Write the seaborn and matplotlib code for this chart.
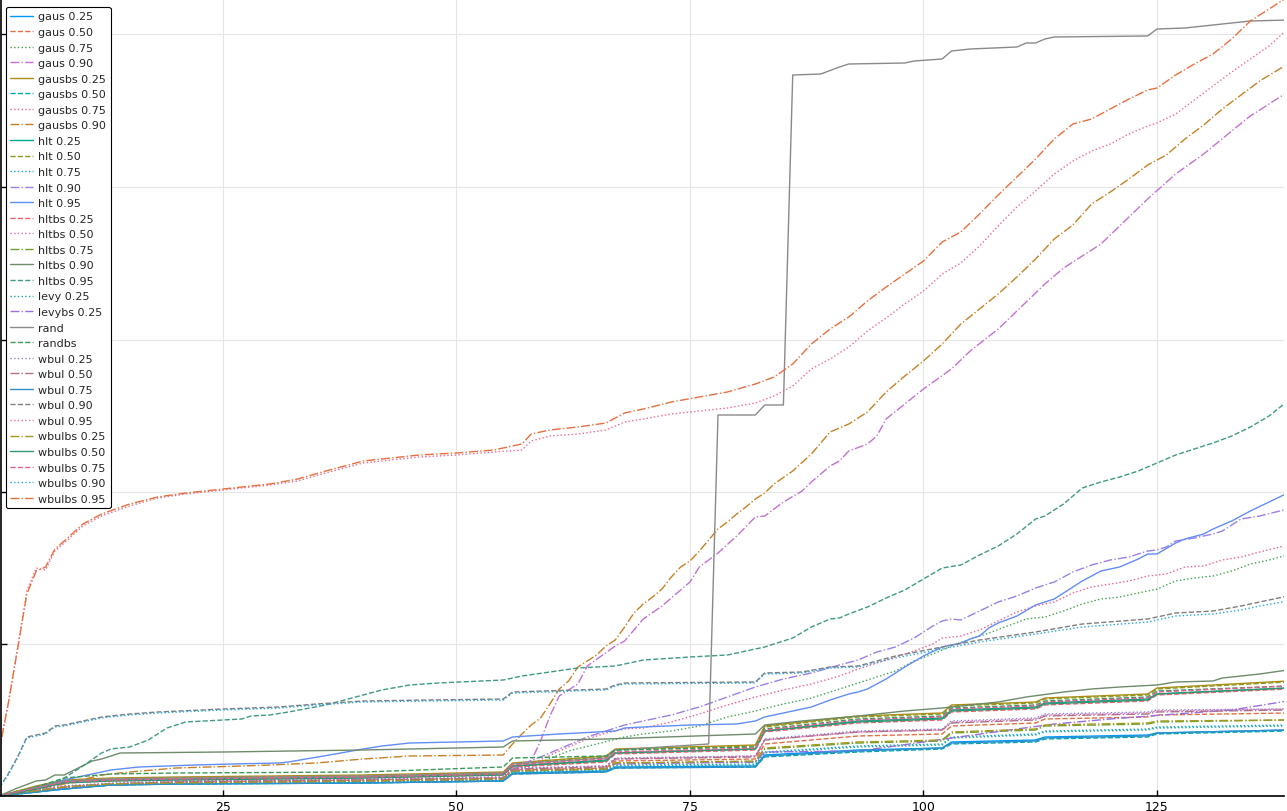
import matplotlib
matplotlib.use("Agg")
import matplotlib.pyplot as plt
import seaborn as sns

sns.set_style("white")
plt.rcParams["font.family"] = ["DejaVu Sans"]

# shared x grid for the step-like bundle at the bottom
xc = [1, 3, 5, 8, 13, 20, 40, 55, 56, 66, 67, 82, 83, 93, 102, 103, 112, 113, 124, 125, 139]

gausbs_025 = [0, 5, 10, 16, 18, 19, 21, 24, 33, 40, 47, 51, 70, 80, 83, 91, 94, 98, 102, 108, 115]
hlt_050 = [0, 5, 9, 15, 17, 18, 20, 23, 32, 39, 46, 50, 69, 79, 82, 90, 93, 97, 101, 107, 114]
randbs = [0, 4, 9, 18, 22, 23, 24, 29, 38, 40, 46, 49, 67, 77, 80, 88, 91, 95, 99, 105, 110]
wbulbs_075 = [0, 4, 8, 14, 16, 17, 19, 22, 31, 37, 44, 48, 66, 76, 79, 87, 90, 94, 98, 104, 110]
hlt_025 = [0, 3, 8, 14, 16, 17, 19, 22, 30, 36, 43, 47, 65, 75, 78, 86, 89, 93, 97, 102, 108]
wbulbs_050 = [0, 3, 7, 13, 15, 16, 18, 21, 30, 35, 43, 47, 65, 74, 77, 85, 88, 92, 96, 102, 108]
hltbs_025 = [0, 3, 7, 13, 15, 16, 18, 21, 29, 34, 42, 46, 64, 73, 76, 84, 87, 91, 95, 101, 107]
wbul_025 = [0, 4, 6, 10, 13, 15, 17, 19, 28, 30, 38, 40, 57, 65, 67, 75, 78, 82, 84, 86, 87]
hltbs_050 = [0, 4, 6, 10, 12, 14, 16, 19, 27, 30, 37, 40, 56, 64, 66, 74, 77, 81, 83, 85, 87]
wbul_050 = [0, 3, 6, 9, 12, 14, 16, 18, 27, 29, 37, 39, 56, 64, 66, 73, 76, 80, 82, 84, 86]
gaus_050 = [0, 3, 5, 9, 12, 14, 16, 18, 26, 28, 35, 37, 52, 60, 62, 70, 73, 77, 79, 81, 83]
wbulbs_025 = [0, 3, 5, 9, 12, 13, 15, 17, 25, 27, 33, 35, 48, 54, 56, 64, 67, 71, 73, 75, 76]
hltbs_075 = [0, 3, 5, 8, 11, 13, 15, 17, 25, 27, 33, 34, 47, 53, 55, 63, 66, 70, 72, 74, 76]
hlt_075 = [0, 2, 5, 8, 11, 13, 14, 16, 24, 26, 31, 32, 44, 50, 52, 59, 62, 65, 67, 69, 71]
levy_025 = [0, 2, 4, 8, 11, 12, 14, 16, 23, 25, 30, 31, 43, 49, 51, 58, 61, 64, 66, 68, 70]
gausbs_050 = [0, 2, 4, 7, 11, 12, 13, 15, 22, 24, 28, 29, 39, 44, 47, 52, 54, 57, 59, 62, 65]
wbul_075 = [0, 2, 4, 7, 11, 12, 13, 15, 22, 24, 28, 29, 40, 45, 48, 53, 55, 58, 60, 63, 66]
gaus_025 = [0, 2, 4, 7, 11, 12, 13, 15, 23, 25, 29, 30, 41, 46, 48, 54, 56, 59, 61, 63, 66]

levybs_025_x = [1, 3, 5, 8, 13, 20, 40, 55, 56, 66, 67, 82, 83, 93, 97, 103, 110, 114, 120, 127, 133, 139]
levybs_025 = [0, 3, 5, 8, 11, 13, 15, 17, 25, 27, 32, 34, 44, 45, 50, 58, 67, 72, 77, 82, 86, 95]

wbulbs_095_x = [1, 2, 3, 4, 5, 6, 7, 8, 10, 12, 15, 18, 21, 25, 30, 33, 36, 40, 43, 46,
                50, 54, 57, 58, 60, 63, 66, 68, 70, 73, 76, 79, 82, 84, 86, 88, 90, 92, 94, 96,
                98, 100, 102, 104, 106, 108, 110, 112, 114, 116, 118, 120, 122, 124, 125, 127, 129, 131, 133, 135,
                137, 139]
wbulbs_095 = [44, 92, 147, 202, 225, 229, 247, 255, 272, 282, 292, 299, 303, 307, 312, 317, 325, 335, 338, 341,
              343, 346, 352, 362, 366, 369, 373, 383, 387, 394, 399, 404, 412, 419, 432, 452, 467, 479, 495, 509,
              522, 535, 554, 564, 582, 601, 619, 637, 657, 672, 677, 687, 697, 706, 708, 721, 732, 742, 757, 775,
              787, 799]
wbul_095 = [44, 92, 147, 205, 228, 226, 245, 253, 270, 280, 290, 298, 302, 306, 311, 315, 323, 333, 336, 339,
            341, 344, 346, 355, 360, 362, 366, 374, 377, 382, 385, 388, 393, 400, 410, 427, 437, 449, 465, 478,
            492, 505, 522, 533, 550, 570, 589, 605, 622, 635, 645, 652, 662, 670, 673, 682, 696, 710, 724, 737,
            750, 767]

gausbs_090_x = [1, 5, 8, 12, 15, 20, 27, 30, 35, 40, 45, 55, 56, 57, 58, 59, 60, 61, 62, 63,
                64, 65, 66, 67, 68, 69, 70, 71, 72, 73, 74, 75, 76, 77, 78, 79, 80, 81, 82, 83,
                84, 86, 88, 90, 92, 94, 96, 98, 100, 102, 104, 106, 108, 110, 112, 114, 116, 118, 120, 122,
                124, 126, 128, 130, 132, 134, 136, 139]
gausbs_090 = [0, 7, 12, 21, 24, 28, 30, 31, 33, 37, 40, 41, 52, 62, 71, 78, 92, 107, 115, 129,
              135, 141, 150, 156, 169, 183, 192, 199, 207, 219, 229, 235, 245, 256, 267, 274, 282, 289, 297, 303,
              312, 325, 342, 364, 372, 384, 404, 420, 435, 452, 472, 487, 502, 519, 537, 557, 571, 592, 604, 617,
              631, 641, 657, 671, 687, 701, 715, 732]

gaus_090_x = [1, 3, 5, 8, 13, 20, 40, 55, 56, 57, 58, 59, 60, 61, 63, 64, 67, 68, 70, 72,
              75, 76, 78, 80, 82, 83, 85, 87, 88, 90, 91, 92, 94, 95, 96, 98, 100, 103, 105, 108,
              110, 113, 115, 119, 121, 124, 127, 130, 133, 135, 137, 139]
gaus_090 = [0, 3, 5, 9, 12, 14, 16, 18, 26, 28, 35, 55, 80, 100, 112, 130, 150, 155, 177, 190,
            214, 229, 243, 260, 279, 280, 294, 305, 314, 330, 335, 345, 352, 360, 377, 392, 407, 427, 445, 467,
            485, 512, 528, 552, 570, 597, 622, 642, 665, 680, 692, 704]

hltbs_095_x = [1, 3, 5, 6, 8, 10, 12, 13, 15, 17, 19, 21, 25, 27, 28, 30, 32, 36, 40, 42,
               45, 48, 55, 57, 60, 63, 67, 70, 75, 79, 81, 83, 86, 88, 90, 91, 92, 94, 96, 98,
               100, 102, 104, 106, 108, 110, 112, 113, 115, 117, 119, 121, 123, 125, 127, 129, 131, 133, 135, 137,
               139]
hltbs_095 = [0, 4, 7, 9, 18, 30, 43, 47, 49, 56, 68, 74, 76, 77, 80, 81, 84, 91, 101, 106,
             111, 113, 116, 120, 124, 128, 130, 136, 139, 141, 145, 149, 158, 169, 177, 178, 182, 189, 198, 206,
             217, 228, 231, 241, 250, 262, 277, 280, 292, 308, 314, 319, 325, 333, 341, 347, 353, 360, 369, 380,
             395]

hlt_095_x = [1, 4.5, 8, 10, 13, 16, 22, 26, 31, 32, 37, 40, 42, 45, 55, 56, 61, 67, 68, 70,
             75, 80, 82, 83, 86, 88, 90, 92, 93, 94, 96, 98, 100, 102, 103, 104, 105, 106, 107, 108,
             110, 112, 113, 114, 115, 117, 119, 121, 123, 124, 125, 127, 128, 130, 131, 133, 135, 137, 139]
hlt_095 = [0, 7, 16, 20, 26, 29, 31, 32, 33, 34, 42, 47, 50, 53, 55, 59, 62, 65, 68, 69,
           71, 72, 75, 79, 85, 89, 96, 102, 104, 107, 117, 129, 140, 149, 151, 153, 157, 160, 168, 173,
           180, 191, 194, 197, 203, 215, 225, 229, 237, 242, 242, 253, 257, 262, 267, 275, 285, 294, 303]

hlt_090_x = [1, 3, 5, 8, 13, 20, 40, 55, 56, 57, 59, 64, 66, 68, 70, 73, 76, 79, 82, 85,
             88, 91, 93, 95, 97, 99, 101, 102, 103, 104, 106, 108, 110, 112, 114, 116, 118, 120, 122, 124,
             125, 126, 127, 129, 131, 132, 134, 136, 139]
hlt_090 = [0, 3, 5, 8, 12, 13, 15, 17, 26, 32, 39, 59, 65, 71, 75, 81, 89, 99, 109, 117,
           123, 131, 136, 144, 149, 158, 170, 175, 177, 176, 185, 194, 200, 208, 214, 224, 231, 236, 239, 245,
           246, 249, 255, 258, 262, 265, 277, 280, 287]

gausbs_075_x = [1, 3, 5, 8, 13, 20, 40, 55, 56, 58, 61, 64, 66, 68, 70, 73, 76, 79, 82, 85,
                88, 91, 93, 95, 97, 99, 101, 102, 104, 106, 108, 110, 112, 114, 116, 118, 120, 122, 124, 126,
                128, 130, 132, 134, 136, 139]
gausbs_075 = [0, 3, 5, 9, 12, 14, 16, 18, 26, 32, 45, 57, 63, 67, 68, 74, 82, 91, 99, 106,
              112, 120, 127, 133, 139, 145, 152, 158, 160, 166, 175, 184, 190, 194, 203, 209, 212, 215, 220, 222,
              229, 230, 236, 239, 244, 251]

gaus_075_x = [1, 3, 5, 8, 13, 20, 40, 55, 56, 58, 62, 65, 68, 70, 73, 76, 79, 82, 85, 88,
              91, 93, 95, 97, 99, 101, 103, 105, 107, 109, 111, 113, 115, 117, 119, 121, 123, 125, 127, 129,
              131, 133, 135, 137, 139]
gaus_075 = [0, 3, 5, 9, 12, 14, 16, 18, 27, 30, 45, 52, 59, 62, 65, 70, 79, 85, 92, 98,
            107, 113, 119, 125, 135, 142, 150, 157, 163, 170, 177, 179, 185, 192, 197, 199, 203, 207, 215, 218,
            220, 225, 232, 236, 241]

wbul_090_x = [1, 2, 3, 4, 5, 6, 7, 8, 10, 12, 15, 18, 25, 31, 35, 40, 47, 55, 56, 66,
              67, 68, 82, 83, 87, 90, 93, 97, 102, 106, 112, 117, 124, 127, 131, 134, 136, 139]
wbul_090 = [8, 22, 39, 59, 61, 63, 70, 71, 75, 79, 82, 84, 87, 89, 92, 95, 96, 97, 104, 107,
            111, 113, 114, 123, 124, 129, 130, 140, 149, 156, 164, 172, 177, 183, 185, 190, 194, 200]
wbulbs_090 = [8, 21, 38, 58, 60, 62, 69, 70, 74, 78, 81, 83, 86, 88, 91, 94, 95, 96, 103, 106,
              110, 112, 113, 122, 123, 128, 129, 138, 147, 154, 162, 169, 174, 180, 182, 186, 190, 195]

hltbs_090_x = [1, 3, 5, 6, 7, 8, 11, 12, 13, 14, 25, 40, 55, 56, 66, 82, 83, 87, 93, 98,
               102, 108, 111, 115, 118, 121, 125, 127, 131, 132, 136, 139]
hltbs_090 = [0, 8, 15, 16, 21, 21, 35, 37, 40, 43, 44, 46, 49, 55, 57, 62, 71, 75, 80, 85,
             88, 94, 99, 104, 107, 109, 111, 114, 115, 118, 122, 126]

rand_x = [1, 3, 5, 8, 13, 20, 40, 55, 56, 66, 67, 77, 78, 82, 83, 85, 86, 89, 91, 92,
          98, 99, 102, 103, 105, 110, 111, 112, 113, 114, 124, 125, 128, 130, 133, 135, 139]
rand = [0, 4, 9, 15, 17, 18, 20, 23, 32, 38, 46, 52, 381, 381, 391, 391, 721, 722, 729, 732,
        733, 735, 737, 745, 747, 749, 753, 753, 757, 759, 760, 767, 768, 770, 773, 775, 776]

series = [
    ("gaus 0.25", xc, gaus_025, "#009AFA", "-"),
    ("gaus 0.50", xc, gaus_050, "#E26F46", "--"),
    ("gaus 0.75", gaus_075_x, gaus_075, "#3DA44D", ":"),
    ("gaus 0.90", gaus_090_x, gaus_090, "#C371D2", "-."),
    ("gausbs 0.25", xc, gausbs_025, "#AC8E18", "-"),
    ("gausbs 0.50", xc, gausbs_050, "#00A9AD", "--"),
    ("gausbs 0.75", gausbs_075_x, gausbs_075, "#ED5E93", ":"),
    ("gausbs 0.90", gausbs_090_x, gausbs_090, "#C68125", "-."),
    ("hlt 0.25", xc, hlt_025, "#00A98D", "-"),
    ("hlt 0.50", xc, hlt_050, "#8E971E", "--"),
    ("hlt 0.75", xc, hlt_075, "#00A8CB", ":"),
    ("hlt 0.90", hlt_090_x, hlt_090, "#9B7FE9", "-."),
    ("hlt 0.95", hlt_095_x, hlt_095, "#618DF6", "-"),
    ("hltbs 0.25", xc, hltbs_025, "#F05F73", "--"),
    ("hltbs 0.50", xc, hltbs_050, "#DD64B5", ":"),
    ("hltbs 0.75", xc, hltbs_075, "#6C9F32", "-."),
    ("hltbs 0.90", hltbs_090_x, hltbs_090, "#6F8B6C", "-"),
    ("hltbs 0.95", hltbs_095_x, hltbs_095, "#3F9A85", "--"),
    ("levy 0.25", xc, levy_025, "#22A3A0", ":"),
    ("levybs 0.25", levybs_025_x, levybs_025, "#9B6FE0", "-."),
    ("rand", rand_x, rand, "#8A8A8A", "-"),
    ("randbs", xc, randbs, "#3A9A5A", "--"),
    ("wbul 0.25", xc, wbul_025, "#8A7FD0", ":"),
    ("wbul 0.50", xc, wbul_050, "#B0708A", "-."),
    ("wbul 0.75", xc, wbul_075, "#2E8FC9", "-"),
    ("wbul 0.90", wbul_090_x, wbul_090, "#7F7F7F", "--"),
    ("wbul 0.95", wbulbs_095_x, wbul_095, "#F06A8A", ":"),
    ("wbulbs 0.25", xc, wbulbs_025, "#A39A1E", "-."),
    ("wbulbs 0.50", xc, wbulbs_050, "#2F9870", "-"),
    ("wbulbs 0.75", xc, wbulbs_075, "#E0608F", "--"),
    ("wbulbs 0.90", wbul_090_x, wbulbs_090, "#27A6E0", ":"),
    ("wbulbs 0.95", wbulbs_095_x, wbulbs_095, "#E6703F", "-."),
]

fig = plt.figure(figsize=(12.87, 8.12), dpi=100)
ax = fig.add_axes([1 / 1287, 15 / 812, 1283 / 1287, 797 / 812])

for label, xs, ys, color, ls in series:
    sns.lineplot(x=xs, y=ys, color=color, linestyle=ls, linewidth=1.0,
                 estimator=None, errorbar=None, label=label, ax=ax)

ax.set_xlim(1.23, 138.6)
ax.set_ylim(0, 797)
ax.set_xticks([25, 50, 75, 100, 125])
ax.set_yticks([152, 304, 456, 609, 762])
ax.set_yticklabels([])
ax.set_xlabel("")
ax.set_ylabel("")
ax.grid(True, color="#E6E6E6", linewidth=0.8)
ax.set_axisbelow(True)
for side in ["top", "right"]:
    ax.spines[side].set_visible(False)
for side in ["left", "bottom"]:
    ax.spines[side].set_color("black")
    ax.spines[side].set_linewidth(1.2)
ax.tick_params(direction="in", length=4, width=1, colors="black", labelsize=9, pad=3,
               left=True, bottom=True)

handles, labels = ax.get_legend_handles_labels()
leg = ax.legend(handles, labels, loc="upper left", bbox_to_anchor=(0.0039, 0.99),
                borderaxespad=0, fontsize=8, labelspacing=0.5, handlelength=2.0,
                handletextpad=0.5, borderpad=0.4, frameon=True, fancybox=True,
                framealpha=1)
leg.get_frame().set_edgecolor("black")
leg.get_frame().set_linewidth(0.8)

fig.savefig("out.png", dpi=100)
